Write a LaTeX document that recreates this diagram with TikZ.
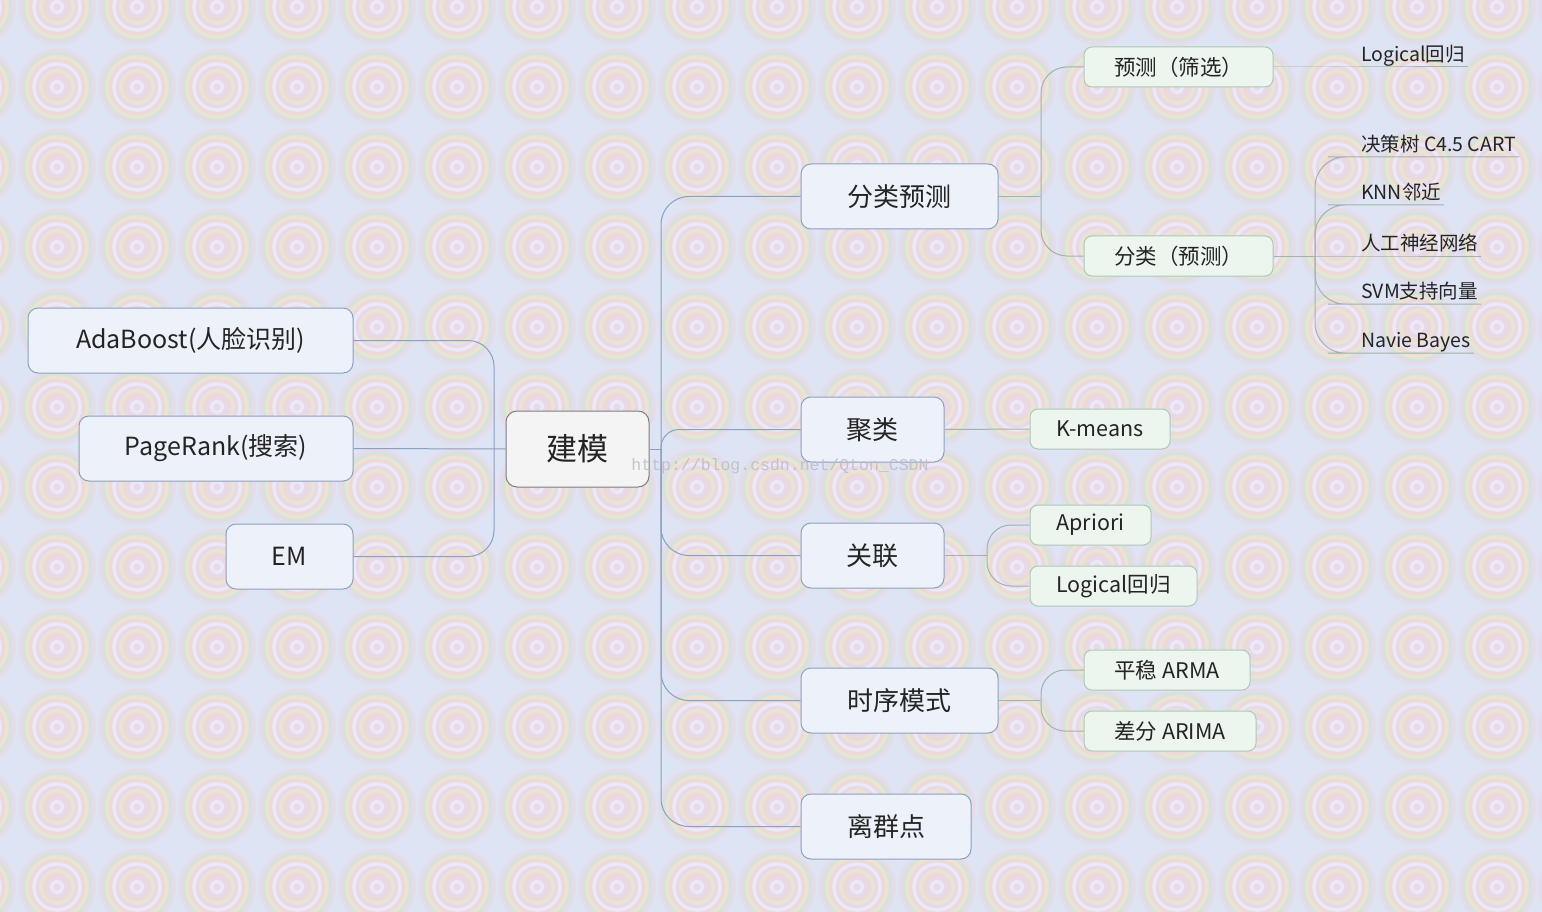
\documentclass[tikz,border=0pt]{standalone}
\usepackage{fontspec}
\setmainfont{Noto Sans CJK SC}
\setmonofont{Liberation Mono}
\definecolor{bgc}{RGB}{221,228,244}
\definecolor{rA}{RGB}{236,216,232}
\definecolor{rB}{RGB}{212,226,212}
\definecolor{rC}{RGB}{241,229,196}
\definecolor{rD}{RGB}{243,213,206}
\definecolor{rE}{RGB}{243,236,248}
\definecolor{rF}{RGB}{238,214,228}
\definecolor{boxfill}{RGB}{237,242,250}
\definecolor{boxline}{RGB}{140,160,192}
\definecolor{rootfill}{RGB}{244,244,244}
\definecolor{rootline}{RGB}{125,125,125}
\definecolor{gfill}{RGB}{236,245,238}
\definecolor{gline}{RGB}{172,202,180}
\definecolor{conn}{RGB}{138,160,194}
\definecolor{gconn}{RGB}{160,180,170}
\definecolor{txt}{RGB}{36,36,36}
\definecolor{wm}{RGB}{190,190,200}
\tikzset{
  rootbox/.style={draw=rootline, fill=rootfill, line width=1pt, rounded corners=11pt, inner sep=0pt, text=txt, font=\fontsize{31}{36}\selectfont},
  lonebox/.style={draw=boxline, fill=boxfill, line width=1pt, rounded corners=10pt, inner sep=0pt, minimum height=65pt, text=txt, font=\fontsize{26}{30}\selectfont},
  lleft/.style={lonebox, font=\fontsize{25}{30}\selectfont},
  ltwobox/.style={draw=gline, fill=gfill, line width=1pt, rounded corners=8pt, inner sep=0pt, minimum height=40pt, text=txt, font=\fontsize{21.5}{25}\selectfont},
  leaf/.style={anchor=south west, inner xsep=3pt, inner ysep=0pt, text depth=5pt, text=txt, font=\fontsize{19.5}{23}\selectfont},
  cline/.style={draw=conn, line width=1pt},
  gline2/.style={draw=gconn, line width=1pt},
}
\begin{document}
\begin{tikzpicture}[x=1pt,y=-1pt]
\useasboundingbox (0,0) rectangle (1542,912);
% background pattern
\begin{scope}
\clip (0,0) rectangle (1542,912);
\fill[bgc] (0,0) rectangle (1542,912);
\begin{scope}[opacity=0.72]
\foreach \i in {-1,...,19}{
  \foreach \j in {0,...,11}{
    \pgfmathsetmacro\cx{57+80*\i}
    \pgfmathsetmacro\cy{7+80*\j}
    \foreach \r/\c in {37/rA,33.5/rB,30/rC,26.5/rD,23/rE,19.5/rF,16/rC,12.5/rD,9/rF,5.5/rE}{
      \draw[\c, line width=3.3pt] (\cx,\cy) circle[radius=\r];
    }
    \fill[rF] (\cx,\cy) circle[radius=3.5];
  }
}
\end{scope}
\end{scope}

% nodes
\node[rootbox, minimum width=143pt, minimum height=76pt] (root) at (577.5,449) {建模};

\node[lleft, minimum width=325pt] (ada) at (190.5,340.5) {AdaBoost(人脸识别)};
\node[lleft, minimum width=274pt] (pr) at (216,448.5) {PageRank(搜索)};
\node[lleft, minimum width=127pt] (em) at (289.5,556.5) {EM};

\node[lonebox, minimum width=197pt] (fl) at (899.5,196.5) {分类预测};
\node[lonebox, minimum width=143pt] (jl) at (872.5,429.5) {聚类};
\node[lonebox, minimum width=143pt] (gl) at (872.5,555.5) {关联};
\node[lonebox, minimum width=197pt] (sx) at (899.5,700.5) {时序模式};
\node[lonebox, minimum width=170pt] (lq) at (886,826.5) {离群点};

\node[ltwobox, minimum width=189pt] (yc) at (1178.5,67) {预测（筛选）};
\node[ltwobox, minimum width=189pt] (fc) at (1178.5,256) {分类（预测）};
\node[ltwobox, minimum width=140pt] (km) at (1100,429) {K-means};
\node[ltwobox, minimum width=121pt] (ap) at (1090.5,525) {Apriori};
\node[ltwobox, minimum width=167pt] (lg) at (1113.5,586) {Logical回归};
\node[ltwobox, minimum width=166pt] (pw) at (1167,670) {平稳 ARMA};
\node[ltwobox, minimum width=172pt] (cf) at (1170,731) {差分 ARIMA};

\node[leaf] (lf1) at (1358,67) {Logical回归};
\node[leaf] (lf2) at (1358,157) {决策树 C4.5 CART};
\node[leaf] (lf3) at (1358,205) {KNN邻近};
\node[leaf] (lf4) at (1358,256) {人工神经网络};
\node[leaf] (lf5) at (1358,304) {SVM支持向量};
\node[leaf] (lf6) at (1358,353) {Navie Bayes};

% trunk coordinates
\coordinate (tl) at (494,449);
\coordinate (tr) at (661,449);
\coordinate (tf) at (1041,196.5);
\coordinate (tg) at (987,555.5);
\coordinate (ts) at (1041,700.5);
\coordinate (tc) at (1315,256);

% left connectors
\draw[cline] (pr.east) -- (root.west);
\draw[cline, rounded corners=26pt] (tl) |- (ada.east);
\draw[cline, rounded corners=26pt] (tl) |- (em.east);

% right connectors from root
\draw[cline] (root.east) -- (tr);
\draw[cline, rounded corners=28pt] (tr) |- (fl.west);
\draw[cline, rounded corners=18pt] (tr) |- (jl.west);
\draw[cline, rounded corners=28pt] (tr) |- (gl.west);
\draw[cline, rounded corners=28pt] (tr) |- (sx.west);
\draw[cline, rounded corners=28pt] (tr) |- (lq.west);

% level 2 connectors
\draw[gline2] (fl.east) -- (tf);
\draw[gline2, rounded corners=26pt] (tf) |- (yc.west);
\draw[gline2, rounded corners=26pt] (tf) |- (fc.west);
\draw[gline2] (jl.east) -- (km.west);
\draw[gline2] (gl.east) -- (tg);
\draw[gline2, rounded corners=24pt] (tg) |- (ap.west);
\draw[gline2, rounded corners=24pt] (tg) |- (lg.west);
\draw[gline2] (sx.east) -- (ts);
\draw[gline2, rounded corners=24pt] (ts) |- (pw.west);
\draw[gline2, rounded corners=24pt] (ts) |- (cf.west);

% leaf connectors with underlines
\draw[gline2] (yc.east) -- (lf1.south west) -- (lf1.south east);
\draw[gline2] (fc.east) -- (tc);
\draw[gline2, rounded corners=30pt] (tc) |- (lf2.south west) -- (lf2.south east);
\draw[gline2, rounded corners=30pt] (tc) |- (lf3.south west) -- (lf3.south east);
\draw[gline2] (tc) -- (lf4.south west) -- (lf4.south east);
\draw[gline2, rounded corners=30pt] (tc) |- (lf5.south west) -- (lf5.south east);
\draw[gline2, rounded corners=30pt] (tc) |- (lf6.south west) -- (lf6.south east);

% watermark
\node[text=wm, opacity=0.9, font=\ttfamily\fontsize{16.5}{18}\selectfont, inner sep=0pt] (wmk) at (780,466) {http://blog.csdn.net/Qton\_CSDN};
\end{tikzpicture}
\end{document}
